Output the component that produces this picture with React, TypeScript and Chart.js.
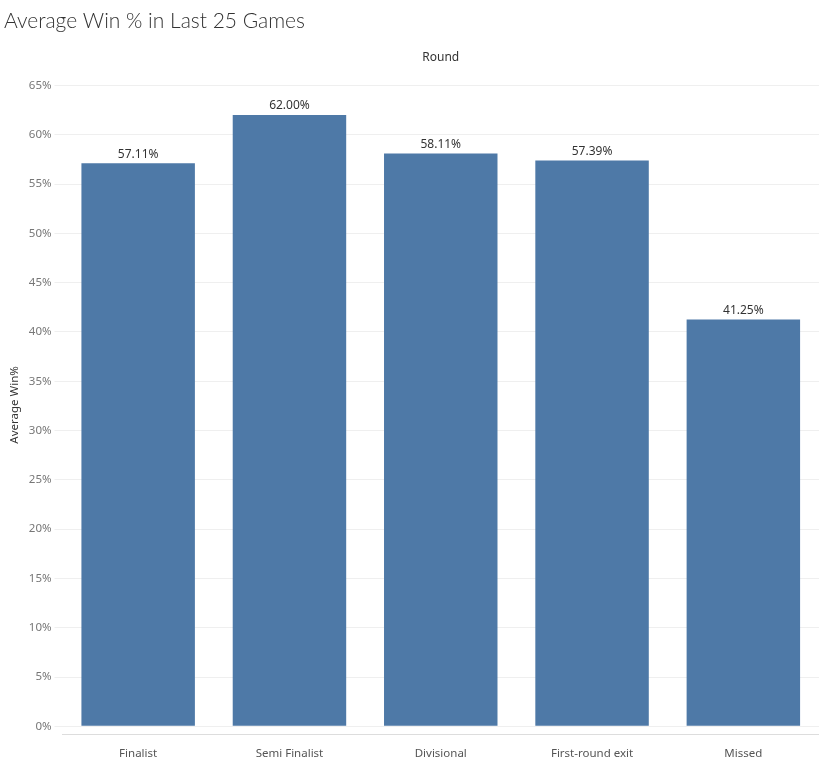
import React, { useEffect, useRef } from 'react';
import { Chart, registerables } from 'chart.js';

Chart.register(...registerables);

const rounds = ['Finalist', 'Semi Finalist', 'Divisional', 'First-round exit', 'Missed'];
const avgWin = [57.11, 62.0, 58.11, 57.39, 41.25];
const yTicks = [0, 5, 10, 15, 20, 25, 30, 35, 40, 45, 50, 55, 60, 65];

const barLabels = {
  id: 'barLabels',
  afterDatasetsDraw(chart: Chart) {
    const ctx = chart.ctx;
    const meta = chart.getDatasetMeta(0);
    ctx.save();
    ctx.font = '12px "Noto Sans"';
    ctx.fillStyle = '#333';
    ctx.textAlign = 'center';
    ctx.textBaseline = 'bottom';
    meta.data.forEach((el: any, i) => {
      ctx.fillText(avgWin[i].toFixed(2) + '%', el.x, el.y - 3);
    });
    ctx.restore();
  },
};

const App: React.FC = () => {
  const chartRef = useRef<HTMLCanvasElement>(null);
  const chartInstance = useRef<Chart>();

  useEffect(() => {
    document.body.style.margin = '0';
    if (chartRef.current) {
      chartInstance.current = new Chart(chartRef.current, {
        type: 'bar',
        data: {
          labels: rounds,
          datasets: [{ data: avgWin, backgroundColor: '#4e79a7', barPercentage: 0.75, categoryPercentage: 1 }],
        },
        options: {
          responsive: false,
          animation: false,
          layout: { padding: { left: 4, right: 0, top: 4, bottom: 0 } },
          plugins: {
            legend: { display: false },
            tooltip: { enabled: false },
            title: {
              display: true,
              text: 'Average Win % in Last 25 Games',
              align: 'start',
              color: '#333',
              font: { family: 'Lato', size: 21, weight: '300' as any },
              padding: { top: 5, bottom: 16 },
            },
            subtitle: {
              display: true,
              text: 'Round',
              fullSize: false,
              color: '#333',
              font: { family: 'Noto Sans', size: 12 },
              padding: { top: 0, bottom: 11 },
            },
          },
          scales: {
            x: {
              grid: { display: false },
              border: { color: '#ddd' },
              ticks: { color: '#555', padding: 5, font: { family: 'Noto Sans', size: 11.5 } },
            },
            y: {
              min: -0.8,
              max: 66,
              afterBuildTicks: (axis: any) => {
                axis.ticks = yTicks.map((v) => ({ value: v }));
              },
              grid: { color: '#efefef' },
              border: { display: false },
              ticks: {
                color: '#777',
                font: { family: 'Noto Sans', size: 11.5 },
                callback: (v: any) => v + '%',
              },
              title: {
                display: true,
                text: 'Average Win%',
                color: '#333',
                font: { family: 'Noto Sans', size: 11.5 },
              },
            },
          },
        },
        plugins: [barLabels],
      });
    }
    return () => {
      if (chartInstance.current) {
        chartInstance.current.destroy();
      }
    };
  }, []);

  return <canvas ref={chartRef} width={819} height={766} style={{ display: 'block' }} />;
};

export default App;
